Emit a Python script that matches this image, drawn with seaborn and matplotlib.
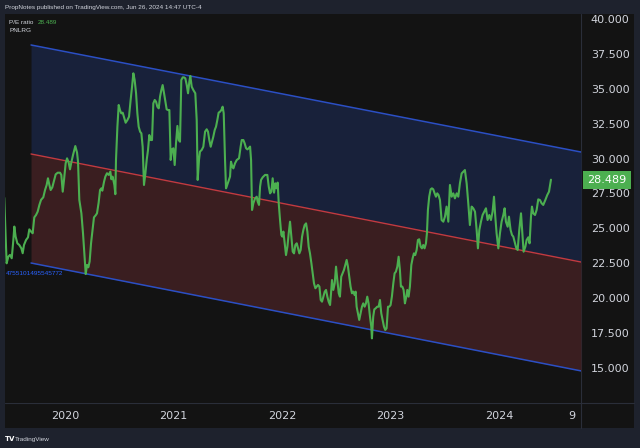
import matplotlib
matplotlib.use("Agg")
import matplotlib.pyplot as plt
import matplotlib.transforms as mtransforms
import seaborn as sns
import pandas as pd
from matplotlib.patches import Rectangle
from matplotlib.lines import Line2D

# ---------------- data ----------------
dates = [
    2019.440, 2019.462, 2019.478, 2019.493, 2019.509, 2019.524, 2019.533, 2019.545, 2019.561, 2019.579,
    2019.598, 2019.610, 2019.622, 2019.641, 2019.659, 2019.671, 2019.687, 2019.702, 2019.717, 2019.733,
    2019.748, 2019.764, 2019.779, 2019.800, 2019.816, 2019.831, 2019.843, 2019.856, 2019.868, 2019.883,
    2019.899, 2019.914, 2019.933, 2019.954, 2019.966, 2019.979, 2019.991, 2020.006, 2020.019, 2020.034,
    2020.046, 2020.058, 2020.074, 2020.095, 2020.111, 2020.120, 2020.132, 2020.151, 2020.166, 2020.178,
    2020.191, 2020.203, 2020.215, 2020.227, 2020.240, 2020.255, 2020.267, 2020.283, 2020.295, 2020.310,
    2020.323, 2020.335, 2020.344, 2020.360, 2020.372, 2020.387, 2020.403, 2020.418, 2020.427, 2020.439,
    2020.455, 2020.464,
    2020.470, 2020.483, 2020.495, 2020.507, 2020.519, 2020.532, 2020.547, 2020.559, 2020.575, 2020.590,
    2020.605, 2020.618, 2020.630, 2020.642, 2020.655, 2020.667, 2020.679, 2020.692, 2020.704, 2020.716,
    2020.728, 2020.741, 2020.753, 2020.765, 2020.777, 2020.790, 2020.802, 2020.814, 2020.827, 2020.839,
    2020.851, 2020.864, 2020.876, 2020.888, 2020.900, 2020.913, 2020.925, 2020.937, 2020.950, 2020.962,
    2020.974, 2020.986, 2020.999, 2021.011, 2021.023, 2021.036, 2021.048, 2021.060, 2021.072, 2021.085,
    2021.097, 2021.109, 2021.122, 2021.134, 2021.146, 2021.155, 2021.168, 2021.183, 2021.201, 2021.214,
    2021.223, 2021.235, 2021.244, 2021.260, 2021.275, 2021.291, 2021.306, 2021.318, 2021.330, 2021.343,
    2021.355, 2021.367, 2021.380, 2021.392, 2021.404, 2021.416, 2021.429, 2021.441, 2021.453, 2021.463,
    2021.475, 2021.484,
    2021.490, 2021.506, 2021.521, 2021.530, 2021.543, 2021.552, 2021.567, 2021.583, 2021.604, 2021.619,
    2021.629, 2021.644, 2021.656, 2021.669, 2021.681, 2021.693, 2021.706, 2021.715, 2021.724, 2021.736,
    2021.752, 2021.767, 2021.776, 2021.788, 2021.798, 2021.807, 2021.822, 2021.844, 2021.865, 2021.878,
    2021.890, 2021.902, 2021.914, 2021.927, 2021.939, 2021.951, 2021.960, 2021.970, 2021.982, 2021.994,
    2022.003, 2022.013, 2022.025, 2022.037, 2022.050, 2022.062, 2022.074, 2022.086, 2022.099, 2022.111,
    2022.123, 2022.136, 2022.148, 2022.160, 2022.172, 2022.185, 2022.197, 2022.209, 2022.222, 2022.234,
    2022.246, 2022.258, 2022.271, 2022.283, 2022.295, 2022.308, 2022.320, 2022.332, 2022.345, 2022.357,
    2022.369, 2022.381, 2022.394, 2022.406, 2022.418, 2022.430, 2022.443, 2022.452, 2022.461, 2022.473,
    2022.486, 2022.498, 2022.510, 2022.523,
    2022.534, 2022.546, 2022.559, 2022.571, 2022.583, 2022.596, 2022.608, 2022.620, 2022.632, 2022.645,
    2022.657, 2022.669, 2022.679, 2022.688, 2022.700, 2022.712, 2022.725, 2022.737, 2022.749, 2022.762,
    2022.774, 2022.786, 2022.798, 2022.811, 2022.823, 2022.829, 2022.841, 2022.851, 2022.863, 2022.878,
    2022.891, 2022.903, 2022.915, 2022.927, 2022.940, 2022.952, 2022.964, 2022.977, 2022.989, 2023.001,
    2023.013, 2023.026, 2023.038, 2023.050, 2023.063, 2023.075, 2023.087, 2023.096, 2023.109, 2023.121,
    2023.133, 2023.146, 2023.155, 2023.167, 2023.179, 2023.192, 2023.204, 2023.216, 2023.228, 2023.241,
    2023.253, 2023.265, 2023.278, 2023.290, 2023.302, 2023.314, 2023.327, 2023.336, 2023.345, 2023.357,
    2023.370, 2023.382, 2023.394, 2023.407, 2023.419, 2023.431, 2023.443, 2023.456,
    2023.471, 2023.487, 2023.502, 2023.517, 2023.533, 2023.548, 2023.564, 2023.579, 2023.594, 2023.610,
    2023.625, 2023.640, 2023.656, 2023.671, 2023.686, 2023.702, 2023.717, 2023.732, 2023.748, 2023.763,
    2023.779, 2023.794, 2023.806, 2023.819, 2023.834, 2023.849, 2023.865, 2023.880, 2023.895, 2023.911,
    2023.926, 2023.941, 2023.954, 2023.966, 2023.978, 2023.994, 2024.009, 2024.024, 2024.040, 2024.052,
    2024.064, 2024.080, 2024.092, 2024.107, 2024.120, 2024.132, 2024.144, 2024.160, 2024.172, 2024.187,
    2024.203, 2024.215, 2024.227, 2024.243, 2024.255, 2024.270, 2024.282, 2024.295, 2024.304, 2024.316,
    2024.332, 2024.347, 2024.362, 2024.378, 2024.393, 2024.408, 2024.427, 2024.445, 2024.461, 2024.479,
]
pe_ratio = [
    27.20, 22.50, 22.98, 23.10, 22.86, 24.17, 25.13, 24.41, 23.93, 23.81,
    23.57, 23.22, 23.81, 24.17, 24.36, 24.93, 24.77, 24.65, 25.79, 25.96,
    26.20, 26.68, 27.04, 27.23, 27.75, 28.11, 28.59, 28.11, 27.75, 27.94,
    28.42, 28.87, 28.99, 28.99, 28.83, 27.63, 28.47, 29.66, 30.02, 29.71,
    29.23, 29.71, 30.26, 30.90, 30.43, 29.78, 27.04, 26.08, 24.65, 23.22,
    21.73, 22.38, 22.21, 22.62, 23.93, 24.93, 25.79, 25.94, 26.08, 26.84,
    27.75, 27.87, 27.70, 28.35, 28.71, 28.95, 28.83, 29.07, 28.52, 28.71,
    28.11, 27.45,
    29.90, 32.29, 33.84, 33.48, 33.24, 33.29, 32.88, 32.57, 32.76, 33.00,
    34.20, 35.15, 36.11, 35.63, 34.68, 33.24, 32.29, 31.93, 31.81, 30.84,
    28.11, 28.94, 29.90, 30.61, 31.69, 31.33, 31.33, 33.96, 34.20, 34.08,
    33.72, 33.60, 34.44, 34.91, 35.27, 34.68, 34.08, 33.53, 33.48, 33.48,
    29.90, 30.66, 30.74, 29.54, 31.09, 32.34, 31.33, 31.21, 35.63, 35.82,
    35.82, 35.75, 35.27, 34.68, 35.51, 35.92, 35.15, 34.91, 34.68, 32.76,
    28.47, 29.90, 30.50, 30.62, 30.85, 31.93, 32.10, 31.93, 31.33, 30.85,
    31.21, 31.57, 32.05, 32.29, 32.76, 33.29, 33.36, 33.48, 33.72, 33.24,
    29.90, 27.87,
    27.99, 28.35, 28.71, 29.78, 29.42, 29.30, 29.66, 29.90, 30.02, 30.86,
    31.33, 31.33, 31.09, 30.74, 30.66, 30.74, 30.86, 29.90, 26.32, 26.80,
    27.15, 27.27, 26.92, 26.68, 27.99, 28.47, 28.66, 28.83, 28.83, 27.99,
    27.51, 27.63, 28.59, 27.56, 28.23, 27.87, 28.28, 26.80, 25.60, 24.53,
    24.41, 24.77, 23.93, 23.09, 23.69, 24.65, 25.48, 24.41, 23.33, 23.21,
    23.81, 23.93, 23.57, 23.21, 23.45, 24.41, 24.89, 25.24, 25.36, 24.77,
    23.69, 23.21, 22.50, 21.78, 21.06, 20.71, 20.83, 20.95, 20.83, 19.87,
    19.75, 20.11, 20.47, 20.59, 20.11, 19.75, 19.51, 20.35, 21.30, 20.59,
    21.06, 22.26, 21.30, 20.35,
    20.11, 21.54, 21.78, 22.02, 22.38, 22.74, 22.26, 21.54, 20.83, 20.35,
    20.47, 20.23, 20.47, 19.39, 18.92, 18.44, 18.92, 19.39, 19.63, 19.39,
    19.63, 20.11, 19.63, 18.68, 17.96, 17.12, 18.68, 19.20, 19.27, 19.39,
    19.39, 19.87, 18.92, 18.44, 17.96, 17.72, 17.84, 19.39, 19.39, 19.51,
    20.11, 21.06, 21.78, 21.90, 22.26, 22.97, 22.02, 20.83, 20.83, 20.59,
    19.63, 20.11, 20.59, 20.11, 20.83, 22.38, 22.86, 23.21, 23.09, 23.45,
    24.17, 24.22, 23.69, 23.57, 23.81, 23.57, 23.93, 24.65, 26.32, 27.27,
    27.80, 27.87, 27.80, 27.51, 27.27, 27.51, 27.39, 27.03,
    25.60, 25.48, 25.84, 26.56, 25.48, 28.11, 27.27, 27.51, 27.15, 27.51,
    27.27, 28.23, 28.94, 29.06, 29.18, 28.23, 26.80, 25.24, 26.56, 26.44,
    26.20, 24.89, 23.57, 24.89, 25.48, 25.96, 26.20, 26.44, 25.60, 25.96,
    25.60, 26.20, 27.27, 25.84, 24.65, 23.57, 24.65, 25.48, 25.96, 26.44,
    25.48, 25.12, 25.84, 24.89, 24.53, 24.41, 24.05, 23.57, 23.45, 24.89,
    26.08, 24.65, 23.33, 23.69, 24.17, 24.36, 23.93, 25.84, 26.56, 26.08,
    25.96, 26.32, 27.08, 27.03, 26.80, 26.68, 27.03, 27.39, 27.63, 28.489,
]

channel_dates = [2019.687, 2024.756]
channel_upper = [38.14, 30.47]
channel_mid = [30.33, 22.59]
channel_lower = [22.52, 14.79]

y_ticks = [15.0, 17.5, 20.0, 22.5, 25.0, 27.5, 30.0, 32.5, 35.0, 37.5, 40.0]
x_tick_pos = [2020, 2021, 2022, 2023, 2024, 2024.67]
x_tick_labels = ["2020", "2021", "2022", "2023", "2024", "9"]
last_value = 28.489
lower_label = "4755101495545772"
header = "PropNotes published on TradingView.com, Jun 26, 2024 14:47 UTC-4"

# ---------------- figure ----------------
sns.set_style("dark")
plt.rcParams["font.family"] = ["DejaVu Sans"]

W, H = 640, 448
OUTER = "#1e222d"
PANEL = "#131313"
GRID = "#2a2e39"
TXT = "#d1d4dc"
GREEN = "#4caf50"

fig = plt.figure(figsize=(W / 100, H / 100), dpi=100, facecolor=OUTER)
fig.patches.append(Rectangle((5 / W, (H - 428) / H), (634 - 5) / W, (428 - 14) / H,
                             transform=fig.transFigure, fc=PANEL, ec="none", zorder=-5))

ax = fig.add_axes([5 / W, (H - 403) / H, 576 / W, 389 / H])
ax.set_facecolor(PANEL)
ax.set_zorder(2)

ax.fill_between(channel_dates, channel_mid, channel_upper, color="#18213a", lw=0, zorder=1)
ax.fill_between(channel_dates, channel_lower, channel_mid, color="#3a1e20", lw=0, zorder=1)
ax.plot(channel_dates, channel_upper, color="#2b4fc4", lw=1.1, zorder=2)
ax.plot(channel_dates, channel_lower, color="#2b4fc4", lw=1.1, zorder=2)
ax.plot(channel_dates, channel_mid, color="#c23a40", lw=1.0, zorder=2)

df = pd.DataFrame({"date": dates, "pe": pe_ratio})
sns.lineplot(data=df, x="date", y="pe", ax=ax, color=GREEN, lw=1.5, zorder=3,
             sort=False, estimator=None)

ax.set_xlim(2019.447, 2024.756)
ax.set_ylim(12.49, 40.36)
ax.set_xlabel("")
ax.set_ylabel("")
ax.grid(False)
for s in ax.spines.values():
    s.set_visible(False)

ax.yaxis.tick_right()
ax.set_yticks(y_ticks)
ax.set_yticklabels([f"{v:.3f}" for v in y_ticks])
ax.tick_params(axis="y", length=0, pad=7, labelcolor=TXT, labelsize=8)
ax.set_xticks(x_tick_pos)
ax.set_xticklabels(x_tick_labels)
ax.tick_params(axis="x", length=0, pad=6, labelcolor=TXT, labelsize=8)

# separators
fig.add_artist(Line2D([581 / W, 581 / W], [(H - 428) / H, (H - 14) / H], color=GRID, lw=0.8,
                      transform=fig.transFigure, zorder=1))
fig.add_artist(Line2D([5 / W, 634 / W], [(H - 403) / H, (H - 403) / H], color=GRID, lw=0.8,
                      transform=fig.transFigure, zorder=1))

# last value tag
ax.annotate(f"{last_value:.3f}", xy=(1.0, last_value), xycoords=("axes fraction", "data"),
            xytext=(607 / W, last_value), textcoords=("figure fraction", "data"),
            ha="center", va="center", color="white", fontsize=8, zorder=10,
            bbox=dict(boxstyle="square,pad=0.35", fc=GREEN, ec="none"), annotation_clip=False)

# lower channel value label (truncated at the left edge)
blend = mtransforms.blended_transform_factory(fig.transFigure, ax.transData)
ax.text(6 / W, 21.75, lower_label, transform=blend, family="Liberation Sans",
        color="#2962ff", fontsize=4.6, va="center", ha="left", zorder=5)

# header and legend
fig.text(5 / W, 1 - 7 / H, header, color=TXT, fontsize=4.6, va="center", ha="left",
         family="Liberation Sans")
fig.text(9 / W, 1 - 22 / H, "P/E ratio", color=TXT, fontsize=4.6, va="center", ha="left",
         family="Liberation Sans", zorder=10)
fig.text(38 / W, 1 - 22 / H, f"{last_value:.3f}", color=GREEN, fontsize=4.6, va="center",
         ha="left", family="Liberation Sans", zorder=10)
fig.text(9 / W, 1 - 31 / H, "PNLRG", color=TXT, fontsize=4.6, va="center", ha="left",
         family="Liberation Sans", zorder=10)

# footer
fig.text(5 / W, 1 - 439 / H, "TV", color="white", fontsize=5, fontweight="bold",
         va="center", ha="left")
fig.text(15 / W, 1 - 439 / H, "TradingView", color=TXT, fontsize=4.6, va="center",
         ha="left", family="Liberation Sans")

fig.savefig("out.png", dpi=100, facecolor=OUTER)
